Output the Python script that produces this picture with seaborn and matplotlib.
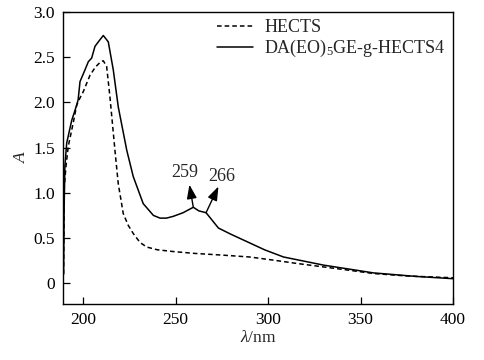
import numpy as np
import pandas as pd
import matplotlib
matplotlib.use("Agg")
import matplotlib.pyplot as plt
import seaborn as sns

# ---- data ----
hects_wl = [189.3, 189.7, 190.6, 191.8, 194.5, 196.4, 198.2, 200.0, 203.6, 206.5, 209.4, 210.8,
            212.6, 214.4, 217.1, 218.9, 221.6, 224.3, 227.0, 230.7, 234.3, 240.0, 248.7, 260.0,
            275.8, 290.0, 302.9, 315.0, 330.0, 345.0, 357.0, 375.0, 400.0]
hects_abs = [0.10, 1.07, 1.29, 1.51, 1.77, 1.97, 2.05, 2.12, 2.30, 2.39, 2.45, 2.46,
             2.40, 2.06, 1.47, 1.10, 0.77, 0.64, 0.55, 0.45, 0.40, 0.37, 0.35, 0.33,
             0.31, 0.29, 0.255, 0.22, 0.18, 0.14, 0.107, 0.08, 0.06]

da_wl = [189.3, 189.6, 190.0, 191.0, 193.7, 196.4, 197.2, 198.2, 200.9, 202.7, 204.5, 206.3,
         208.5, 210.8, 213.5, 216.2, 218.9, 223.5, 227.0, 232.4, 237.9, 241.5, 245.0,
         248.7, 254.0, 259.5, 262.5, 266.4, 273.1, 280.0, 288.5, 298.0, 308.3, 330.0,
         357.0, 380.0, 400.0]
da_abs = [0.10, 0.80, 1.29, 1.55, 1.80, 1.97, 2.03, 2.23, 2.36, 2.45, 2.49, 2.62,
          2.68, 2.74, 2.67, 2.36, 1.95, 1.47, 1.18, 0.88, 0.75, 0.72, 0.72,
          0.74, 0.78, 0.84, 0.80, 0.78, 0.61, 0.54, 0.46, 0.37, 0.29, 0.20,
          0.114, 0.075, 0.05]

series_names = ["HECTS", "DA(EO)$_5$GE-g-HECTS4"]
peak_labels = ["259", "266"]
peak_wl = [259.5, 266.4]
peak_abs = [0.84, 0.78]

x_ticks = [200, 250, 300, 350, 400]
y_ticks = [0, 0.5, 1.0, 1.5, 2.0, 2.5, 3.0]
y_tick_labels = ["0", "0.5", "1.0", "1.5", "2.0", "2.5", "3.0"]

df = pd.concat([
    pd.DataFrame({"wl": hects_wl, "A": hects_abs, "s": series_names[0]}),
    pd.DataFrame({"wl": da_wl, "A": da_abs, "s": series_names[1]}),
])

sns.set_theme(style="ticks")
plt.rcParams["font.family"] = ["Liberation Serif", "DejaVu Serif"]
plt.rcParams["mathtext.fontset"] = "custom"
plt.rcParams["mathtext.rm"] = "Liberation Serif"
plt.rcParams["mathtext.it"] = "Liberation Serif:italic"

fig = plt.figure(figsize=(4.84, 3.6), dpi=100)
ax = fig.add_axes([63 / 484, 1 - 304 / 360, 390 / 484, 292 / 360])

sns.lineplot(data=df, x="wl", y="A", hue="s", style="s",
             palette=["black", "black"], dashes=[(3, 2), ""],
             linewidth=1.1, sort=False, ax=ax, legend=True)

ax.set_xlim(189, 400)
ax.set_ylim(-0.23, 3.0)
ax.set_xticks(x_ticks)
ax.set_xticklabels([str(t) for t in x_ticks])
ax.set_yticks(y_ticks)
ax.set_yticklabels(y_tick_labels)
ax.tick_params(direction="in", length=5, width=0.9, labelsize=12.5, colors="black",
               top=False, right=False)
ax.tick_params(axis="y", pad=6)
ax.tick_params(axis="x", pad=6)
for sp in ax.spines.values():
    sp.set_linewidth(1.0)
    sp.set_color("black")
    sp.set_visible(True)

ax.set_xlabel(r"$\it{\lambda}$/nm", fontsize=12.5, labelpad=1)
ax.set_ylabel("A", fontsize=12.5, style="italic", labelpad=2)

leg = ax.legend(loc="upper right", frameon=False, fontsize=13,
                handlelength=2.0, handletextpad=0.6, labelspacing=0.1,
                bbox_to_anchor=(1.0, 1.0), borderaxespad=0.0)

text_pos = [(255.1, 1.22), (274.8, 1.18)]
tip_pos = [(257.4, 1.09), (273.1, 1.07)]
for lbl, px, py, tp, tip in zip(peak_labels, peak_wl, peak_abs, text_pos, tip_pos):
    ax.annotate("", xy=tip, xytext=(px, py),
                arrowprops=dict(arrowstyle="-|>,head_length=0.7,head_width=0.25",
                                color="black", lw=1.0, shrinkA=0, shrinkB=0))
    ax.text(tp[0], tp[1], lbl, fontsize=13, ha="center", va="center")

fig.savefig("out.png", dpi=100)
